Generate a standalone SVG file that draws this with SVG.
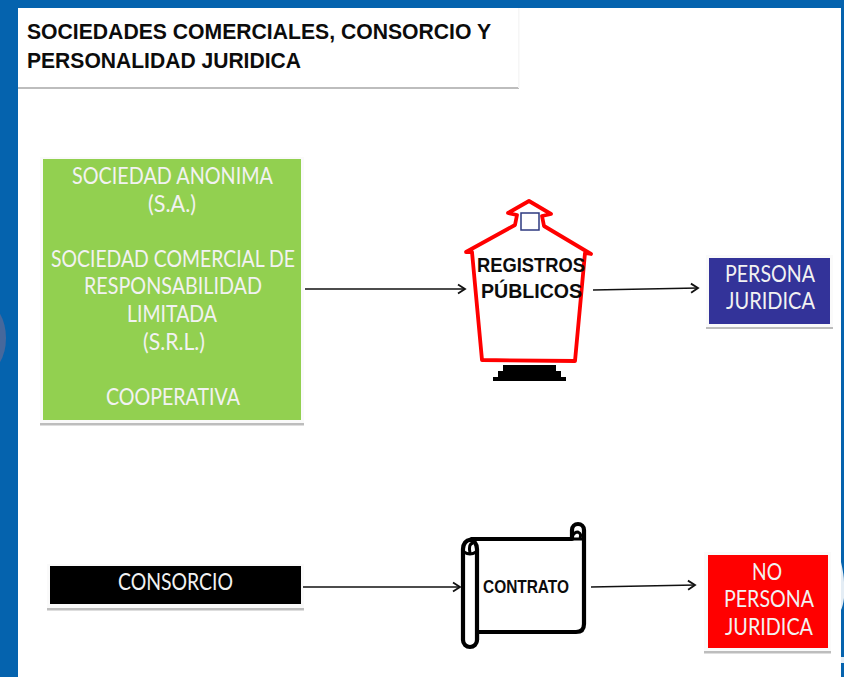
<svg xmlns="http://www.w3.org/2000/svg" width="844" height="677" viewBox="0 0 844 677">
<defs>
<marker id="arr" markerWidth="14" markerHeight="12" refX="11" refY="6" orient="auto" markerUnits="userSpaceOnUse"><path d="M4 1.5 L11 6 L4 10.5" fill="none" stroke="#111" stroke-width="1.8"/></marker>
<filter id="soft" x="-5%" y="-20%" width="110%" height="140%"><feGaussianBlur stdDeviation="0.6"/></filter>
</defs>
<style>
text{font-family:"Lato","Liberation Sans",Arial,sans-serif;text-anchor:middle}
.w{fill:#f2f2f2;font-size:23px}
.b{fill:#0c0c0c;font-weight:bold;font-family:"Liberation Sans",Arial,sans-serif}
.c{fill:none;stroke:#111;stroke-width:1.7;marker-end:url(#arr)}
.s{fill:#bdbdbd;filter:url(#soft)}
.h{fill:#fafafa}
</style>
<rect width="844" height="677" fill="#0563ae"/>
<rect x="18" y="8" width="823" height="669" fill="#fff"/>
<ellipse cx="-14" cy="338" rx="20" ry="34" fill="#46689c"/>
<path d="M841 562 Q844 575 844 582 V598 Q843 606 841 610Z M841 657 H844 V663 H841Z" fill="#e4edf5"/>
<g id="title">
<rect x="18" y="87" width="501" height="2" class="s"/>
<rect x="518" y="8" width="1.500" height="80" fill="#f6f6f6"/>
<text x="27" y="39" class="b" font-size="21.5" style="text-anchor:start" textLength="464" lengthAdjust="spacingAndGlyphs">SOCIEDADES COMERCIALES, CONSORCIO Y</text>
<text x="27" y="68" class="b" font-size="21.5" style="text-anchor:start" textLength="274" lengthAdjust="spacingAndGlyphs">PERSONALIDAD JURIDICA</text>
</g>
<g id="sociedades">
<rect x="40" y="157" width="264" height="267" class="h"/>
<rect x="40" y="423" width="264" height="2.5" class="s"/>
<rect x="43" y="159" width="258" height="261" fill="#92d050"/>
<text x="172.500" y="184" class="w" textLength="201" lengthAdjust="spacingAndGlyphs">SOCIEDAD ANONIMA</text>
<text x="172" y="212" class="w" textLength="48" lengthAdjust="spacingAndGlyphs">(S.A.)</text>
<text x="173" y="267" class="w" textLength="244" lengthAdjust="spacingAndGlyphs">SOCIEDAD COMERCIAL DE</text>
<text x="173" y="294" class="w" textLength="178" lengthAdjust="spacingAndGlyphs">RESPONSABILIDAD</text>
<text x="172" y="322" class="w" textLength="90" lengthAdjust="spacingAndGlyphs">LIMITADA</text>
<text x="174" y="350" class="w" textLength="62" lengthAdjust="spacingAndGlyphs">(S.R.L.)</text>
<text x="173" y="405" class="w" textLength="134" lengthAdjust="spacingAndGlyphs">COOPERATIVA</text>
</g>
<g id="registros">
<path d="M466 252 L515 225 L517 215 L508 213 L529 201 L551 214 L542 216 L544 226 L591 254 L585 253 L575 361 L482 360 L472 252Z" fill="#fff" stroke="#f00" stroke-width="3.8" stroke-linejoin="round"/>
<rect x="521" y="213" width="18" height="17" fill="#fff" stroke="#2e3a80" stroke-width="1.5"/>
<path d="M503 365 H556 V371 H561 V377 H566 V381 H493 V377 H498 V371 H503Z" fill="#000"/>
<text x="531" y="272" class="b" font-size="21" textLength="108" lengthAdjust="spacingAndGlyphs">REGISTROS</text>
<text x="531.500" y="298" class="b" font-size="21" textLength="101" lengthAdjust="spacingAndGlyphs">PÚBLICOS</text>
</g>
<g id="persona">
<rect x="706" y="255" width="127" height="73" class="h"/>
<rect x="706" y="327" width="127" height="2" class="s"/>
<rect x="709" y="258" width="121" height="66" fill="#333399"/>
<text x="770" y="282" class="w" textLength="90" lengthAdjust="spacingAndGlyphs">PERSONA</text>
<text x="770.500" y="309" class="w" textLength="89" lengthAdjust="spacingAndGlyphs">JURIDICA</text>
</g>
<g id="consorcio">
<rect x="47" y="564" width="257" height="45" class="h"/>
<rect x="47" y="608" width="257" height="2.5" class="s"/>
<rect x="50" y="566" width="251" height="38" fill="#000"/>
<text x="175.500" y="590" class="w" textLength="115" lengthAdjust="spacingAndGlyphs">CONSORCIO</text>
</g>
<g id="contrato" fill="#fff" stroke="#000" stroke-width="4.200" stroke-linejoin="round">
<path d="M472 539 H572 V530 A6 6 0 0 1 584 530 V624 Q584 632 576 632 H477 V640 L470 540Z"/>
<path d="M463 549 A7 9 0 0 1 477 549 V640 A7 7 0 0 1 463 640Z"/>
<path d="M464 552 Q470 556 476 552 M470 553 Q468 544 473 543" fill="none" stroke-width="3"/>
<path d="M572 539 H584 M572 537 Q574 532 578 532 Q582 534 580 538" fill="none" stroke-width="3"/>
<text x="526" y="593" class="b" font-size="19" stroke="none" fill="#111" textLength="86" lengthAdjust="spacingAndGlyphs">CONTRATO</text>
</g>
<g id="nopersona">
<rect x="704" y="552" width="127" height="100" class="h"/>
<rect x="704" y="651" width="127" height="2.500" class="s"/>
<rect x="708" y="555" width="120" height="93" fill="#f00"/>
<text x="767" y="580" class="w" textLength="30" lengthAdjust="spacingAndGlyphs">NO</text>
<text x="769" y="607" class="w" textLength="90" lengthAdjust="spacingAndGlyphs">PERSONA</text>
<text x="769" y="635" class="w" textLength="88" lengthAdjust="spacingAndGlyphs">JURIDICA</text>
</g>
<g id="connectors">
<path class="c" d="M305 289 H465"/>
<path class="c" d="M593 290 L698 288"/>
<path class="c" d="M303 587 L460 587"/>
<path class="c" d="M591 587 L695 585"/>
</g>
</svg>
